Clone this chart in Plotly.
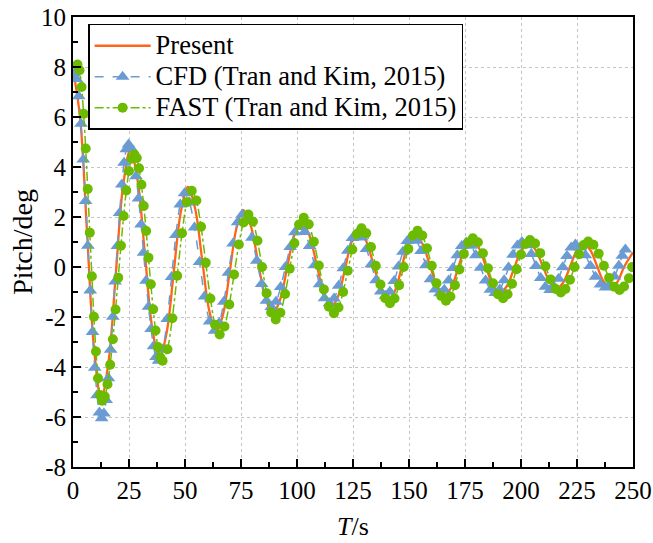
import plotly.graph_objects as go

# ---------------- data ----------------
present_t = [0, 3.15, 6.3, 9.45, 12.6, 15.85, 19.1, 22.35, 25.6, 28.85, 32.1, 35.35, 38.6,
             41.78, 44.95, 48.13, 51.3, 54.48, 57.65, 60.83, 64.0, 67, 70, 73, 76,
             79.3, 82.6, 85.9, 89.2, 92.4, 95.6, 98.8, 102, 105.38, 108.75, 112.13, 115.5,
             118.48, 121.45, 124.43, 127.4, 130.8, 134.2, 137.6, 141, 143.88, 146.75, 149.63, 152.5,
             155.88, 159.25, 162.63, 166, 169, 172, 175, 178, 181.15, 184.3, 187.45, 190.6,
             193.78, 196.95, 200.13, 203.3, 206.48, 209.65, 212.83, 216, 219, 222, 225, 228,
             230.98, 233.95, 236.93, 239.9, 243, 246, 250]
present_v = [7.9, 5.98, 1.33, -3.32, -5.25, -3.80, -0.29, 3.23, 4.68, 3.46, 0.52, -2.42, -3.64,
             -2.64, -0.22, 2.20, 3.2, 2.35, 0.3, -1.75, -2.6, -1.89, -0.17, 1.56, 2.27,
             1.67, 0.21, -1.25, -1.85, -1.32, -0.03, 1.27, 1.8, 1.30, 0.11, -1.08, -1.58,
             -1.14, -0.07, 1.01, 1.45, 1.05, 0.08, -0.90, -1.3, -0.92, 0.0, 0.92, 1.3,
             0.95, 0.09, -0.77, -1.12, -0.80, -0.02, 0.76, 1.08, 0.77, 0.02, -0.73, -1.04,
             -0.75, -0.04, 0.67, 0.96, 0.69, 0.05, -0.59, -0.86, -0.60, 0.04, 0.67, 0.93,
             0.67, 0.04, -0.59, -0.85, -0.60, 0.0, 0.58]

cfd_t = [0.5, 1.53, 2.55, 3.58, 4.6, 5.63, 6.65, 7.68, 8.7, 9.73, 10.75, 11.78, 12.8,
         13.8, 14.8, 15.8, 16.8, 17.8, 18.8, 19.8, 20.8, 21.8, 22.8, 23.8, 24.8,
         25.92, 27.03, 28.15, 29.27, 30.38, 31.5, 32.62, 33.73, 34.85, 35.97, 37.08, 38.2,
         40.13, 42.07, 44.0, 45.93, 47.87, 49.8,
         52.03, 54.27, 56.5, 58.73, 60.97, 63.2,
         65.27, 67.33, 69.4, 71.47, 73.53, 75.6,
         77.75, 79.9, 82.05, 84.2, 86.35, 88.5,
         90.62, 92.73, 94.85, 96.97, 99.08, 101.2,
         103.42, 105.63, 107.85, 110.07, 112.28, 114.5,
         116.55, 118.6, 120.65, 122.7, 124.75, 126.8,
         128.92, 131.03, 133.15, 135.27, 137.38, 139.5,
         141.45, 143.4, 145.35, 147.3, 149.25, 151.2,
         153.3, 155.4, 157.5, 159.6, 161.7, 163.8,
         165.75, 167.7, 169.65, 171.6, 173.55, 175.5,
         177.67, 179.83, 182, 184.17, 186.33, 188.5,
         190.48, 192.47, 194.45, 196.43, 198.42, 200.4,
         202.5, 204.6, 206.7, 208.8, 210.9, 213,
         214.88, 216.77, 218.65, 220.53, 222.42, 224.3,
         226.53, 228.77, 231, 233.23, 235.47, 237.7,
         239.7, 241.7, 243.7, 245.2, 246.6]
cfd_v = [7.75, 7.52, 6.83, 5.73, 4.3, 2.64, 0.85, -0.94, -2.6, -4.03, -5.13, -5.82, -6.05,
         -5.86, -5.32, -4.45, -3.31, -1.99, -0.575, 0.84, 2.16, 3.30, 4.17, 4.71, 4.9,
         4.75, 4.32, 3.63, 2.74, 1.70, 0.575, -0.55, -1.59, -2.48, -3.17, -3.6, -3.75,
         -3.30, -2.08, -0.4, 1.28, 2.50, 2.95,
         2.58, 1.58, 0.2, -1.18, -2.18, -2.55,
         -2.24, -1.39, -0.225, 0.94, 1.79, 2.1,
         1.85, 1.175, 0.25, -0.675, -1.35, -1.6,
         -1.39, -0.8, 0.0, 0.8, 1.39, 1.6,
         1.40, 0.84, 0.075, -0.69, -1.25, -1.45,
         -1.26, -0.75, -0.05, 0.65, 1.16, 1.35,
         1.18, 0.725, 0.1, -0.525, -0.98, -1.15,
         -0.99, -0.56, 0.025, 0.61, 1.04, 1.2,
         1.05, 0.64, 0.075, -0.49, -0.90, -1.05,
         -0.91, -0.54, -0.035, 0.47, 0.84, 0.98,
         0.85, 0.475, -0.03, -0.535, -0.905, -1.04,
         -0.90, -0.53, -0.02, 0.49, 0.86, 1.0,
         0.87, 0.52, 0.04, -0.44, -0.79, -0.92,
         -0.80, -0.465, -0.01, 0.445, 0.78, 0.9,
         0.78, 0.47, 0.04, -0.39, -0.70, -0.82,
         -0.7, -0.38, 0.05, 0.45, 0.7]

fast_t = [2.0, 2.92, 3.83, 4.75, 5.67, 6.58, 7.5, 8.42, 9.33, 10.25, 11.17, 12.08, 13.0,
          14.2, 15.4, 16.6, 17.8, 19.0, 20.2, 21.4, 22.6, 23.8, 25.0, 26.2, 27.4,
          28.45, 29.5, 30.55, 31.6, 32.65, 33.7, 34.75, 35.8, 36.85, 37.9, 38.95, 40.0,
          42.17, 44.33, 46.5, 48.67, 50.83, 53,
          55.08, 57.17, 59.25, 61.33, 63.42, 65.5,
          67.63, 69.77, 71.9, 74.03, 76.17, 78.3,
          80.33, 82.37, 84.4, 86.43, 88.47, 90.5,
          92.58, 94.67, 96.75, 98.83, 100.92, 103,
          105.25, 107.5, 109.75, 112, 114.25, 116.5,
          118.55, 120.6, 122.65, 124.7, 126.75, 128.8,
          130.92, 133.03, 135.15, 137.27, 139.38, 141.5,
          143.55, 145.6, 147.65, 149.7, 151.75, 153.8,
          155.92, 158.03, 160.15, 162.27, 164.38, 166.5,
          168.5, 170.5, 172.5, 174.5, 176.5, 178.5,
          180.75, 183, 185.25, 187.5, 189.75, 192,
          194, 196, 198, 200, 202, 204,
          206.3, 208.6, 210.9, 213.2, 215.5, 217.8,
          219.83, 221.87, 223.9, 225.93, 227.97, 230,
          232.33, 234.67, 237, 239.33, 241.67, 244,
          246, 248.2, 249.6]
fast_v = [8.1, 7.87, 7.20, 6.13, 4.74, 3.12, 1.375, -0.37, -1.99, -3.38, -4.45, -5.12, -5.35,
          -5.18, -4.69, -3.91, -2.89, -1.70, -0.425, 0.85, 2.04, 3.06, 3.84, 4.33, 4.5,
          4.36, 3.95, 3.29, 2.44, 1.44, 0.375, -0.69, -1.69, -2.54, -3.20, -3.61, -3.75,
          -3.29, -2.05, -0.35, 1.35, 2.59, 3.05,
          2.66, 1.61, 0.175, -1.26, -2.31, -2.7,
          -2.38, -1.5, -0.3, 0.9, 1.78, 2.1,
          1.82, 1.05, 0.0, -1.05, -1.82, -2.1,
          -1.83, -1.08, -0.065, 0.95, 1.70, 1.97,
          1.71, 1.015, 0.06, -0.895, -1.59, -1.85,
          -1.62, -1.0, -0.15, 0.70, 1.32, 1.55,
          1.35, 0.8, 0.05, -0.7, -1.25, -1.45,
          -1.26, -0.725, 0.0, 0.725, 1.26, 1.45,
          1.26, 0.75, 0.05, -0.65, -1.16, -1.35,
          -1.18, -0.725, -0.1, 0.525, 0.98, 1.15,
          0.99, 0.55, -0.05, -0.65, -1.09, -1.25,
          -1.09, -0.67, -0.085, 0.50, 0.92, 1.08,
          0.94, 0.555, 0.03, -0.495, -0.88, -1.02,
          -0.88, -0.51, 0.0, 0.51, 0.88, 1.02,
          0.89, 0.535, 0.05, -0.435, -0.79, -0.92,
          -0.78, -0.45, 0.0]

x_tickvals = [0, 25, 50, 75, 100, 125, 150, 175, 200, 225, 250]
x_ticktext = ["0", "25", "50", "75", "100", "125", "150", "175", "200", "225", "250"]
y_tickvals = [-8, -6, -4, -2, 0, 2, 4, 6, 8, 10]
y_ticktext = ["-8", "-6", "-4", "-2", "0", "2", "4", "6", "8", "10"]

series_names = ["Present", "CFD (Tran and Kim, 2015)", "FAST (Tran and Kim, 2015)"]

# ---------------- figure ----------------
ORANGE = "#FF6419"
BLUE = "#6A9BD2"
GREEN = "#6DBB00"
FONT = "Liberation Serif, Times New Roman, serif"


def legend_label(s):
    return "<span style='font-size:26.5px'>" + s + "</span>"


fig = go.Figure()
fig.add_trace(go.Scatter(
    x=present_t, y=present_v, name=legend_label(series_names[0]), mode="lines",
    line=dict(color=ORANGE, width=2.3, shape="spline", smoothing=1.0),
    legendrank=1))
fig.add_trace(go.Scatter(
    x=cfd_t, y=cfd_v, name=legend_label(series_names[1]), mode="lines+markers",
    line=dict(color=BLUE, width=1.5, dash="dash", shape="spline", smoothing=0.8),
    marker=dict(symbol="triangle-up", size=12, color=BLUE),
    legendrank=2))
fig.add_trace(go.Scatter(
    x=fast_t, y=fast_v, name=legend_label(series_names[2]), mode="lines+markers",
    line=dict(color=GREEN, width=1.5, dash="dashdot", shape="spline", smoothing=0.8),
    marker=dict(symbol="circle", size=10, color=GREEN),
    legendrank=3))

axis_common = dict(
    showline=True, linecolor="black", linewidth=2, mirror=True,
    ticks="inside", ticklen=8, tickwidth=2, tickcolor="black",
    showgrid=True, gridcolor="#C4C4C4", griddash="3px,3px", gridwidth=1,
    zeroline=False, automargin=False, ticklabeloverflow="allow",
    tickfont=dict(family=FONT, size=25, color="black"),
)

fig.update_xaxes(
    range=[0, 250], tickvals=x_tickvals, ticktext=x_ticktext,
    minor=dict(ticks="inside", ticklen=5, tickwidth=1.5, tickcolor="black", dtick=12.5, tick0=0, showgrid=False),
    title=dict(text="<i>T</i>/s", font=dict(family=FONT, size=26, color="black"), standoff=14),
    **axis_common)
fig.update_yaxes(
    range=[-8, 10], tickvals=y_tickvals, ticktext=y_ticktext,
    minor=dict(ticks="inside", ticklen=5, tickwidth=1.5, tickcolor="black", dtick=1, tick0=0, showgrid=False),
    title=dict(text="Pitch/deg", font=dict(family=FONT, size=28, color="black"), standoff=0),
    **axis_common)

fig.update_layout(
    width=653, height=543,
    margin=dict(l=73, r=20, t=17, b=76),
    paper_bgcolor="white", plot_bgcolor="white",
    font=dict(family=FONT, size=25, color="black"),
    legend=dict(
        x=0.027, y=0.985, xanchor="left", yanchor="top",
        bgcolor="white", bordercolor="black", borderwidth=1.5,
        font=dict(family=FONT, size=21.5, color="black"),
        tracegroupgap=0, itemwidth=56,
    ),
    showlegend=True,
)

# remove the default page margin so the figure sits at the window's corner
fig.write_html("out.html", config={"displayModeBar": False},
               post_script="document.body.style.margin='0';")
